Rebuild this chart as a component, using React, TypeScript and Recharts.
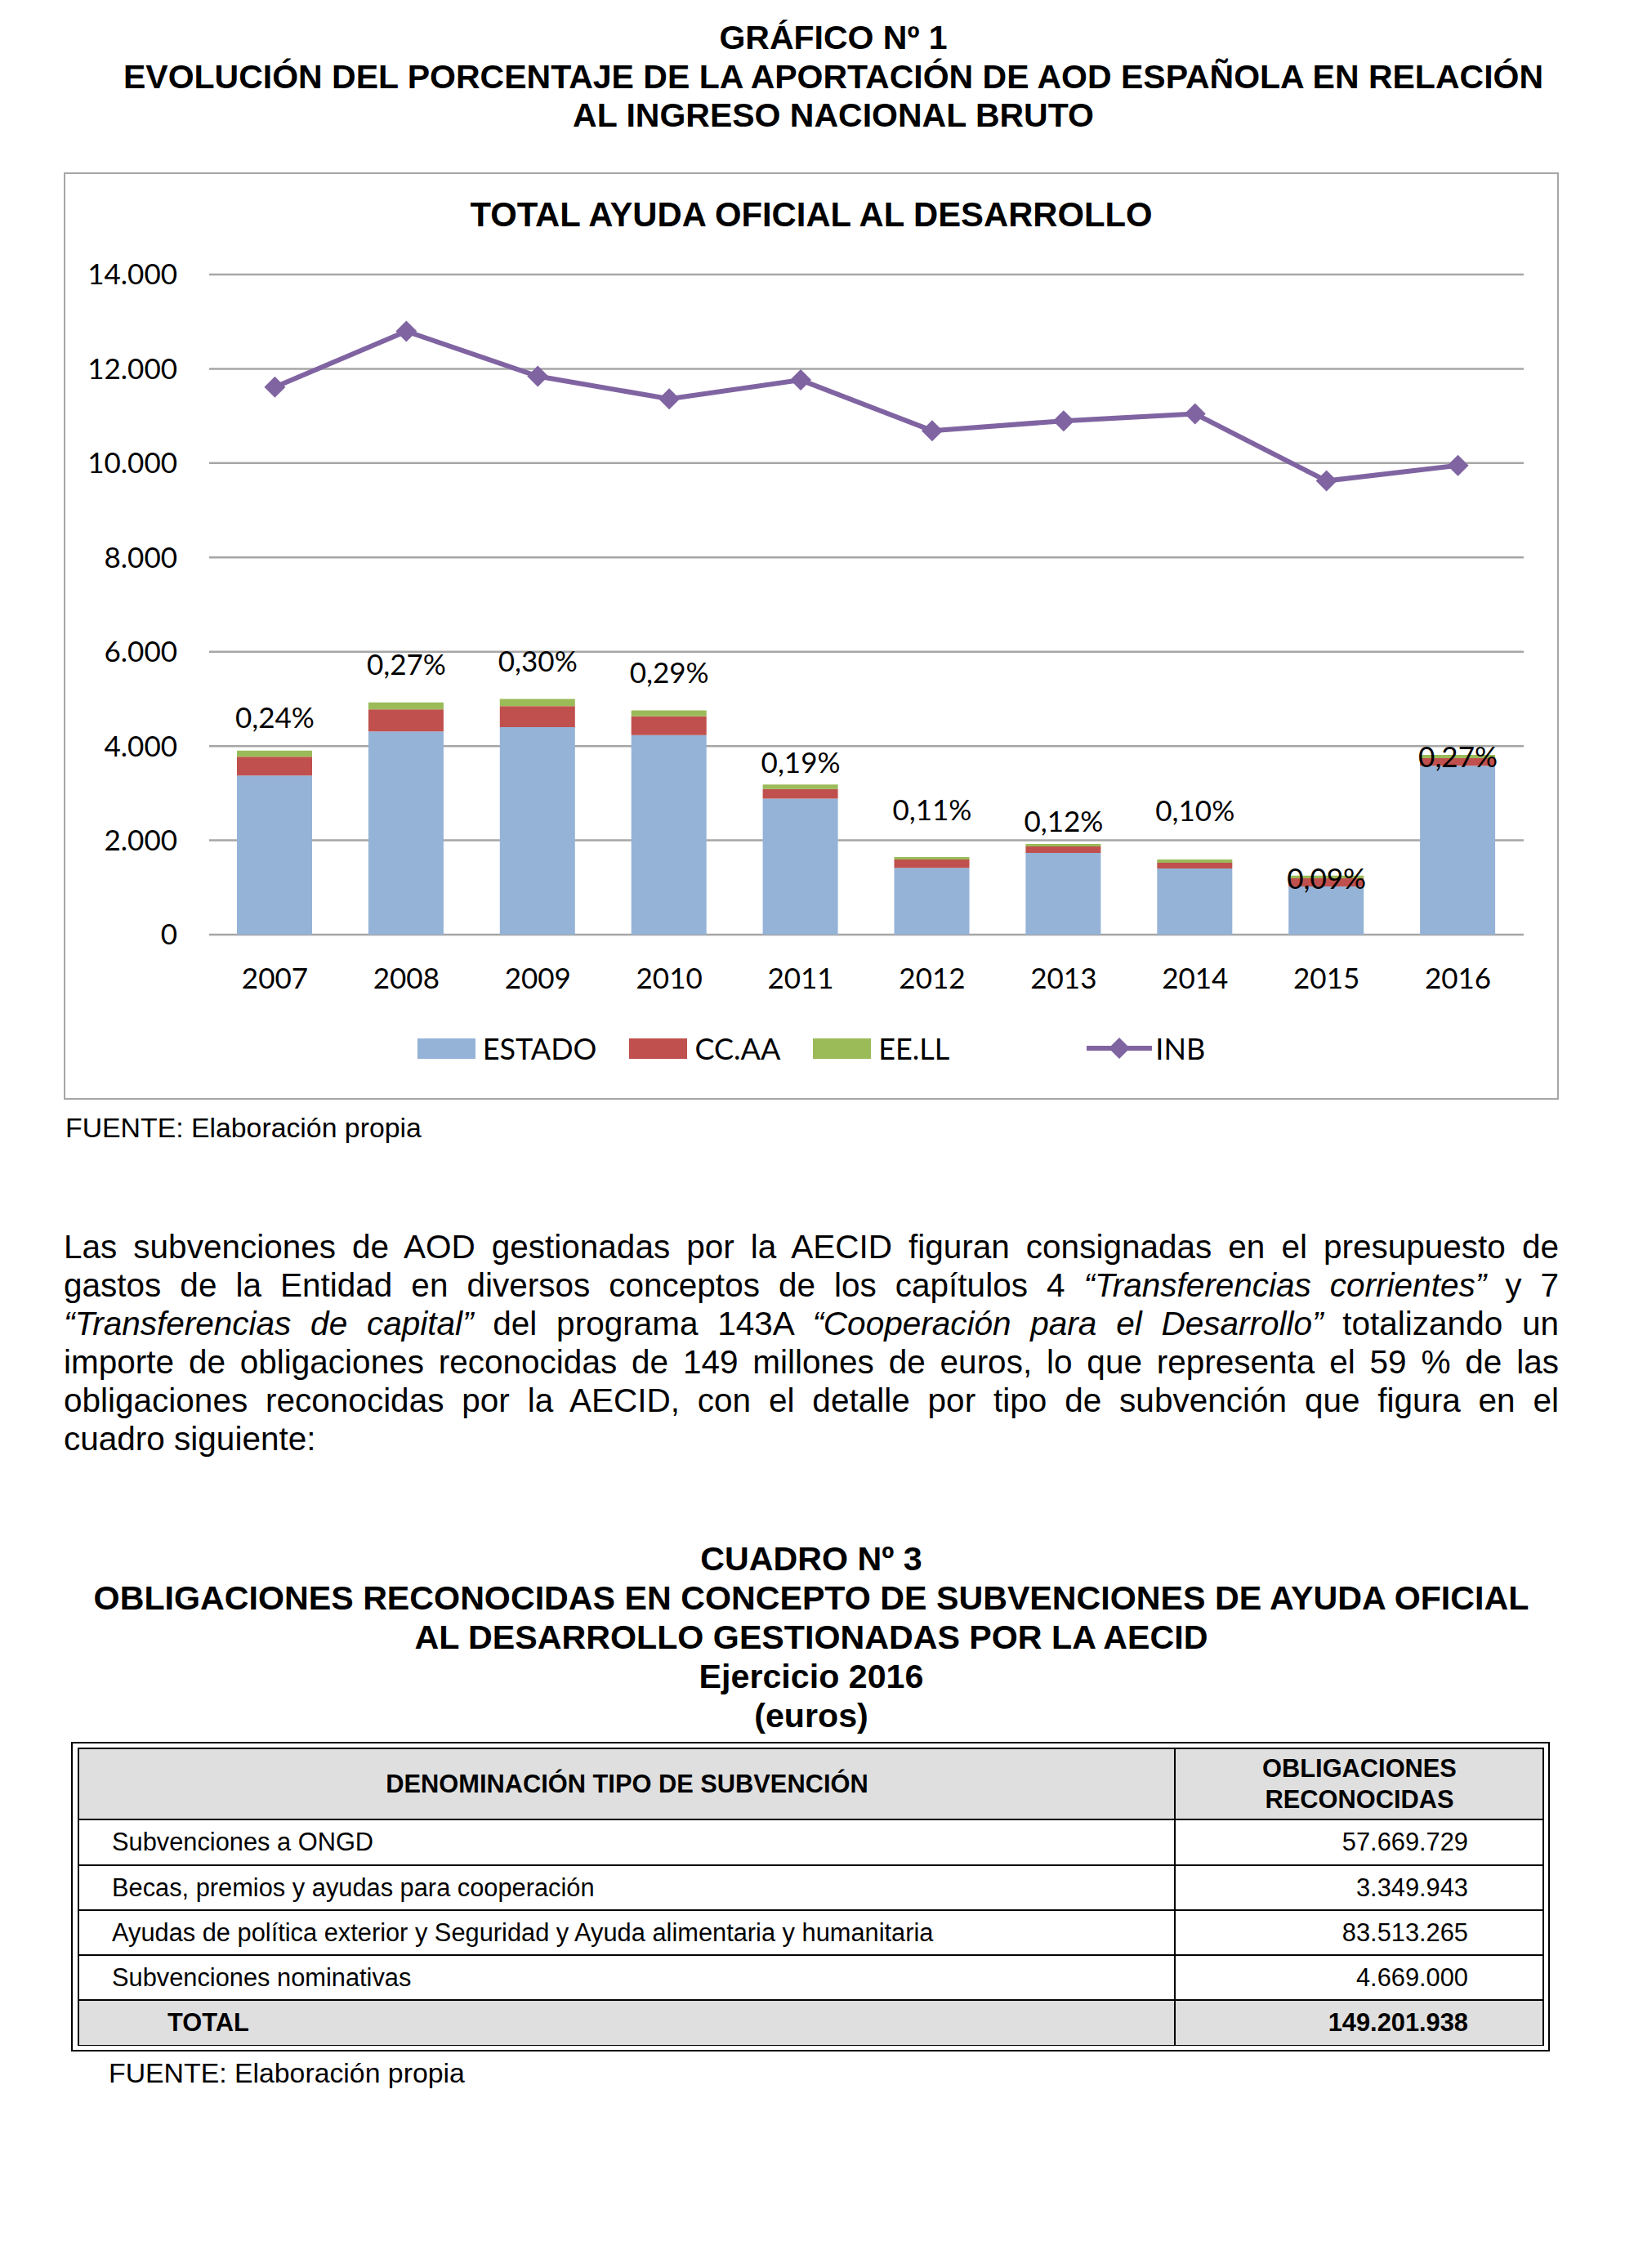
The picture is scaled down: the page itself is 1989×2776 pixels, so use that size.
import React from "react";
import { ComposedChart, Bar, Line, XAxis, YAxis, CartesianGrid, Legend, LabelList } from "recharts";

const years = ["2007", "2008", "2009", "2010", "2011", "2012", "2013", "2014", "2015", "2016"];
const estado = [3374, 4310, 4400, 4230, 2887, 1416, 1733, 1405, 1023, 3584];
const ccaa = [399, 468, 447, 400, 200, 178, 140, 120, 173, 159];
const eell = [130, 149, 150, 128, 98, 51, 49, 69, 57, 67];
const inb = [11614, 12797, 11842, 11364, 11763, 10688, 10896, 11045, 9624, 9951];
const pctLabels = ["0,24%", "0,27%", "0,30%", "0,29%", "0,19%", "0,11%", "0,12%", "0,10%", "0,09%", "0,27%"];
const pctLabelPos = [4610, 5733, 5792, 5563, 3643, 2640, 2409, 2619, 1190, 3773];
const yTicks = [0, 2000, 4000, 6000, 8000, 10000, 12000, 14000];

const tableRows = [
  { name: "Subvenciones a ONGD", value: "57.669.729" },
  { name: "Becas, premios y ayudas para cooperación", value: "3.349.943" },
  { name: "Ayudas de política exterior y Seguridad y Ayuda alimentaria y humanitaria", value: "83.513.265" },
  { name: "Subvenciones nominativas", value: "4.669.000" },
];
const tableTotal = "149.201.938";

const C = { estado: "#95b3d7", ccaa: "#c0504d", eell: "#9bbb59", inb: "#8064a2", grid: "#a6a6a6" };
const DOC_FONT = '"Liberation Sans", Arial, sans-serif';
const CHART_FONT = 'Lato, "Open Sans", sans-serif';

const data = years.map((y, i) => ({
  year: y, estado: estado[i], ccaa: ccaa[i], eell: eell[i], inb: inb[i], pctPos: pctLabelPos[i], pct: pctLabels[i],
}));

const fmt = (v: number) => String(v).replace(/\B(?=(\d{3})+(?!\d))/g, ".");

const Diamond = (p: any) => {
  const { cx, cy } = p;
  if (cx == null || cy == null) return null;
  const r = 13;
  return <polygon key={`d${p.index}`} points={`${cx},${cy - r} ${cx + r},${cy} ${cx},${cy + r} ${cx - r},${cy}`} fill={C.inb} />;
};

const PctLabel = (p: any) => (
  <text x={p.x} y={p.y} dy="0.36em" textAnchor="middle" fontFamily={CHART_FONT} fontSize={35} fill="#000">{p.value}</text>
);

const legendItems = [
  { name: "ESTADO", color: C.estado, kind: "rect" },
  { name: "CC.AA", color: C.ccaa, kind: "rect" },
  { name: "EE.LL", color: C.eell, kind: "rect" },
  { name: "", color: "none", kind: "blank" },
  { name: "INB", color: C.inb, kind: "line" },
];

const ChartLegend = () => (
  <div style={{ display: "flex", justifyContent: "center", alignItems: "center", gap: 40, fontFamily: CHART_FONT, fontSize: 36, height: 40 }}>
    {legendItems.map((it, i) => (
      <div key={i} style={{ display: "flex", alignItems: "center", gap: it.kind === "line" ? 4 : 9 }}>
        {it.kind === "rect" && <div style={{ width: 71, height: 25, background: it.color }} />}
        {it.kind === "blank" && <div style={{ width: 88 }} />}
        {it.kind === "line" && (
          <svg width={80} height={30}>
            <line x1={0} y1={15} x2={80} y2={15} stroke={it.color} strokeWidth={6} />
            <polygon points="40,2 53,15 40,28 27,15" fill={it.color} />
          </svg>
        )}
        {it.name && <span>{it.name}</span>}
      </div>
    ))}
  </div>
);

const para = [
  [{ t: "Las subvenciones de AOD gestionadas por la AECID figuran consignadas en el presupuesto de" }],
  [{ t: "gastos de la Entidad en diversos conceptos de los capítulos 4 " }, { t: "“Transferencias corrientes”", i: true }, { t: " y 7" }],
  [{ t: "“Transferencias de capital”", i: true }, { t: " del programa 143A " }, { t: "“Cooperación para el Desarrollo”", i: true }, { t: " totalizando un" }],
  [{ t: "importe de obligaciones reconocidas de 149 millones de euros, lo que representa el 59 % de las" }],
  [{ t: "obligaciones reconocidas por la AECID, con el detalle por tipo de subvención que figura en el" }],
  [{ t: "cuadro siguiente:" }],
];

const rowTops = [2227, 2283, 2338, 2393, 2448];

export default function App() {
  const abs = (o: React.CSSProperties): React.CSSProperties => ({ position: "absolute", ...o });
  return (
    <div style={{ position: "absolute", left: 0, top: 0, width: 1989, height: 2776, background: "#fff", fontFamily: DOC_FONT, color: "#000" }}>
      <div style={abs({ left: 0, top: 23, width: 2040, textAlign: "center", fontWeight: "bold", fontSize: 41, lineHeight: "47.5px" })}>
        <div>GRÁFICO Nº 1</div>
        <div>EVOLUCIÓN DEL PORCENTAJE DE LA APORTACIÓN DE AOD ESPAÑOLA EN RELACIÓN</div>
        <div>AL INGRESO NACIONAL BRUTO</div>
      </div>

      <div style={abs({ left: 78, top: 211, width: 1830, height: 1135, border: "2px solid #a6a6a6", boxSizing: "border-box" })} />
      <div style={abs({ left: 78, top: 239, width: 1830, textAlign: "center", fontWeight: "bold", fontSize: 41.8, lineHeight: "48px" })}>
        TOTAL AYUDA OFICIAL AL DESARROLLO
      </div>
      <div style={abs({ left: 79, top: 212 })}>
        <ComposedChart width={1828} height={1133} data={data} margin={{ top: 124, right: 42, bottom: 141, left: 0 }}>
          <CartesianGrid vertical={false} stroke={C.grid} strokeWidth={2.5} />
          <XAxis dataKey="year" height={60} axisLine={false} tickLine={false} tickSize={0} tickMargin={41}
            tick={{ fontFamily: CHART_FONT, fontSize: 35, fill: "#000" }} interval={0} />
          <YAxis width={177} domain={[0, 14000]} ticks={yTicks} axisLine={false} tickLine={false} tickSize={0} tickMargin={39}
            tickFormatter={fmt} tick={{ fontFamily: CHART_FONT, fontSize: 35, fill: "#000" }} />
          <Legend layout="horizontal" verticalAlign="middle" align="center" content={<ChartLegend />}
            wrapperStyle={{ top: 1051, left: 0, width: 1828, height: 40 }} />
          <Bar dataKey="estado" name="ESTADO" stackId="a" fill={C.estado} barSize={92} isAnimationActive={false} />
          <Bar dataKey="ccaa" name="CC.AA" stackId="a" fill={C.ccaa} barSize={92} isAnimationActive={false} />
          <Bar dataKey="eell" name="EE.LL" stackId="a" fill={C.eell} barSize={92} isAnimationActive={false} />
          <Line dataKey="inb" name="INB" stroke={C.inb} strokeWidth={6} dot={Diamond} activeDot={false} isAnimationActive={false} />
          <Line dataKey="pctPos" stroke="none" dot={false} activeDot={false} legendType="none" isAnimationActive={false}>
            <LabelList dataKey="pct" content={PctLabel} />
          </Line>
        </ComposedChart>
      </div>

      <div style={abs({ left: 80, top: 1360, fontSize: 33.8, lineHeight: "40px" })}>FUENTE: Elaboración propia</div>

      <div style={abs({ left: 78, top: 1503, width: 1830, fontSize: 40.5, lineHeight: "47px" })}>
        {para.map((line, i) => (
          <div key={i} style={{ textAlign: "justify", textAlignLast: i < para.length - 1 ? "justify" : "left", whiteSpace: "nowrap" }}>
            {line.map((s, j) => <span key={j} style={{ fontStyle: (s as any).i ? "italic" : "normal", whiteSpace: "pre" }}>{s.t}</span>)}
          </div>
        ))}
      </div>

      <div style={abs({ left: 78, top: 1884, width: 1830, textAlign: "center", fontWeight: "bold", fontSize: 41.2, lineHeight: "48px" })}>
        <div>CUADRO Nº 3</div>
        <div>OBLIGACIONES RECONOCIDAS EN CONCEPTO DE SUBVENCIONES DE AYUDA OFICIAL</div>
        <div>AL DESARROLLO GESTIONADAS POR LA AECID</div>
        <div>Ejercicio 2016</div>
        <div>(euros)</div>
      </div>

      <div style={abs({ left: 87, top: 2132, width: 1810, height: 379, border: "2px solid #000", boxSizing: "border-box" })} />
      <div style={abs({ left: 95, top: 2139, width: 1795, height: 2504 - 2139, border: "2px solid #000", boxSizing: "border-box", fontSize: 30.8 })}>
        <div style={abs({ left: 0, top: 0, width: 1791, height: 2227 - 2141, background: "#dfdfdf" })} />
        <div style={abs({ left: 0, top: 2448 - 2141, width: 1791, height: 2503 - 2448, background: "#dfdfdf" })} />
        {rowTops.map((t) => <div key={t} style={abs({ left: 0, top: t - 2141 - 1, width: 1791, height: 2, background: "#000" })} />)}
        <div style={abs({ left: 1438 - 97 - 1, top: 0, width: 2, height: 2503 - 2141, background: "#000" })} />
        <div style={abs({ left: 0, top: 0, width: 1341, height: 86, display: "flex", alignItems: "center", justifyContent: "center", fontWeight: "bold" })}>
          DENOMINACIÓN TIPO DE SUBVENCIÓN
        </div>
        <div style={abs({ left: 1343, top: 0, width: 448, height: 86, display: "flex", flexDirection: "column", alignItems: "center", justifyContent: "center", fontWeight: "bold", lineHeight: "38px" })}>
          <div>OBLIGACIONES</div>
          <div>RECONOCIDAS</div>
        </div>
        {tableRows.map((r, i) => (
          <React.Fragment key={i}>
            <div style={abs({ left: 137 - 97, top: rowTops[i] - 2141, height: 55, display: "flex", alignItems: "center", whiteSpace: "nowrap" })}>{r.name}</div>
            <div style={abs({ left: 1343, top: rowTops[i] - 2141, width: 1797 - 1440, height: 55, display: "flex", alignItems: "center", justifyContent: "flex-end" })}>{r.value}</div>
          </React.Fragment>
        ))}
        <div style={abs({ left: 205 - 97, top: 2448 - 2141, height: 55, display: "flex", alignItems: "center", fontWeight: "bold" })}>TOTAL</div>
        <div style={abs({ left: 1343, top: 2448 - 2141, width: 1797 - 1440, height: 55, display: "flex", alignItems: "center", justifyContent: "flex-end", fontWeight: "bold" })}>{tableTotal}</div>
      </div>

      <div style={abs({ left: 133, top: 2517, fontSize: 33.8, lineHeight: "40px" })}>FUENTE: Elaboración propia</div>
    </div>
  );
}
